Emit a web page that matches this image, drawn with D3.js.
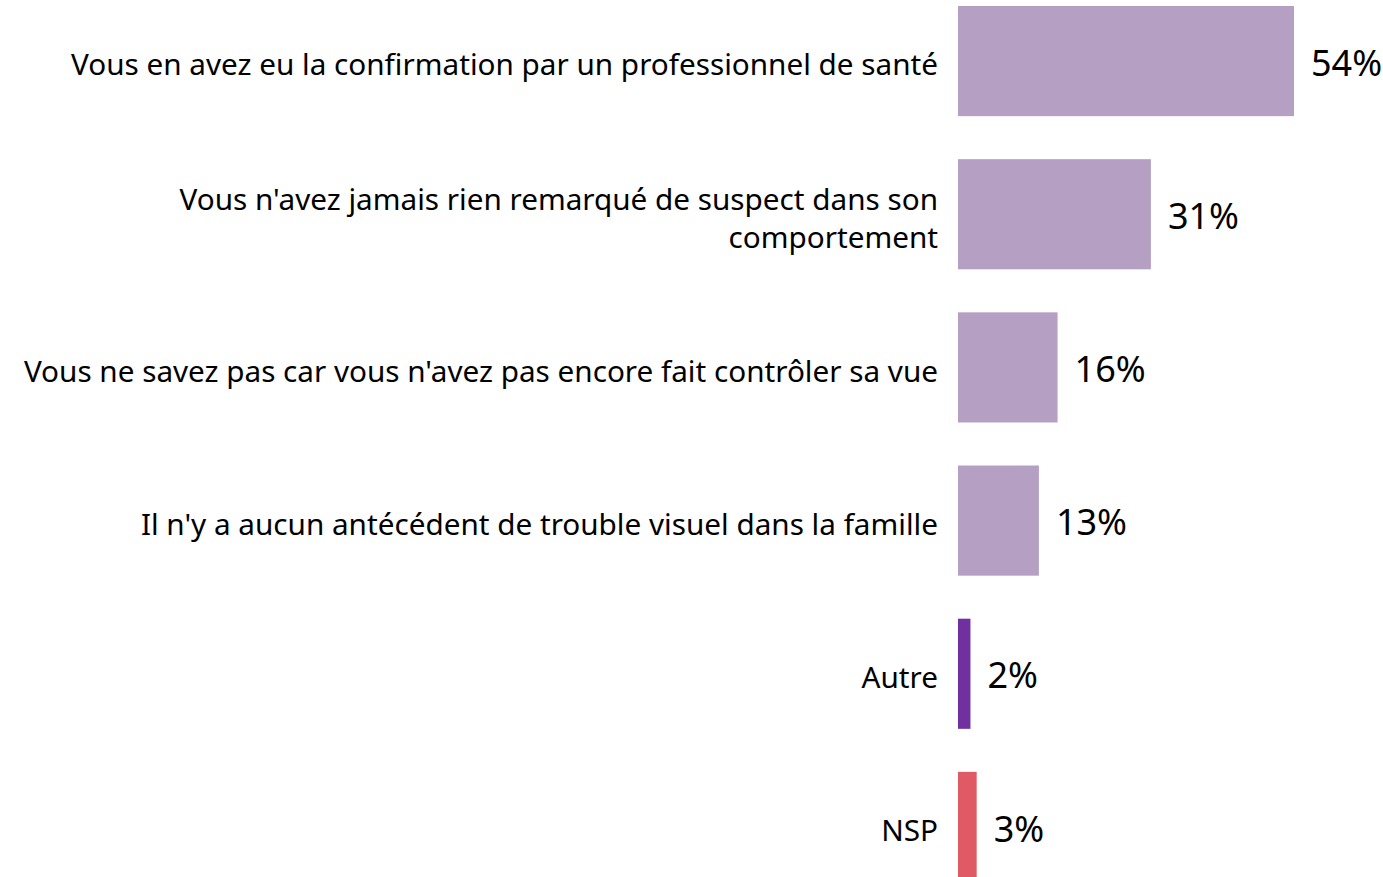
<!DOCTYPE html>
<html>
<head>
<meta charset="utf-8">
<script src="https://cdn.jsdelivr.net/npm/d3@7"></script>
<style>
  body { margin: 0; background: #fff; }
  text { font-family: "Segoe UI", "Noto Sans", "Open Sans", sans-serif; fill: #000; }
</style>
</head>
<body>
<div id="chart"></div>
<script>
// data
var categories = [
    ["Vous en avez eu la confirmation par un professionnel de santé"],
    ["Vous n'avez jamais rien remarqué de suspect dans son", "comportement"],
    ["Vous ne savez pas car vous n'avez pas encore fait contrôler sa vue"],
    ["Il n'y a aucun antécédent de trouble visuel dans la famille"],
    ["Autre"],
    ["NSP"]
];
var values = [54, 31, 16, 13, 2, 3];
var barColors = ["#b59fc3", "#b59fc3", "#b59fc3", "#b59fc3", "#7030a0", "#e05a65"];

var width = 1383, height = 877;

var svg = d3.select("#chart").append("svg")
    .attr("width", width)
    .attr("height", height);

var ids = d3.range(values.length);

var y = d3.scaleBand()
    .domain(ids)
    .range([6, 882])
    .paddingInner(0.281)
    .paddingOuter(0);

var x = d3.scaleLinear()
    .domain([0, 54])
    .range([958, 1294]);

// bars
svg.selectAll(".bar")
    .data(ids)
    .enter()
    .append("rect")
    .attr("class", "bar")
    .attr("x", x(0))
    .attr("y", function(i) { return y(i); })
    .attr("width", function(i) { return x(values[i]) - x(0); })
    .attr("height", y.bandwidth())
    .attr("fill", function(i) { return barColors[i]; });

// category labels
var lineH = 38;
var labels = svg.selectAll(".cat")
    .data(ids)
    .enter()
    .append("text")
    .attr("class", "cat")
    .attr("text-anchor", "end")
    .style("font-size", "29.7px");

labels.each(function(i) {
    var lines = categories[i];
    var cy = y(i) + y.bandwidth() / 2 + 4;
    var t = d3.select(this);
    lines.forEach(function(l, k) {
        t.append("tspan")
            .attr("x", 938)
            .attr("y", cy + (k - (lines.length - 1) / 2) * lineH)
            .attr("dy", "0.35em")
            .text(l);
    });
});

// value labels
svg.selectAll(".val")
    .data(ids)
    .enter()
    .append("text")
    .attr("class", "val")
    .attr("x", function(i) { return x(values[i]) + 17; })
    .attr("y", function(i) { return y(i) + y.bandwidth() / 2 + 2; })
    .attr("dy", "0.35em")
    .style("font-size", "36px")
    .text(function(i) { return values[i] + "%"; });
</script>
</body>
</html>
